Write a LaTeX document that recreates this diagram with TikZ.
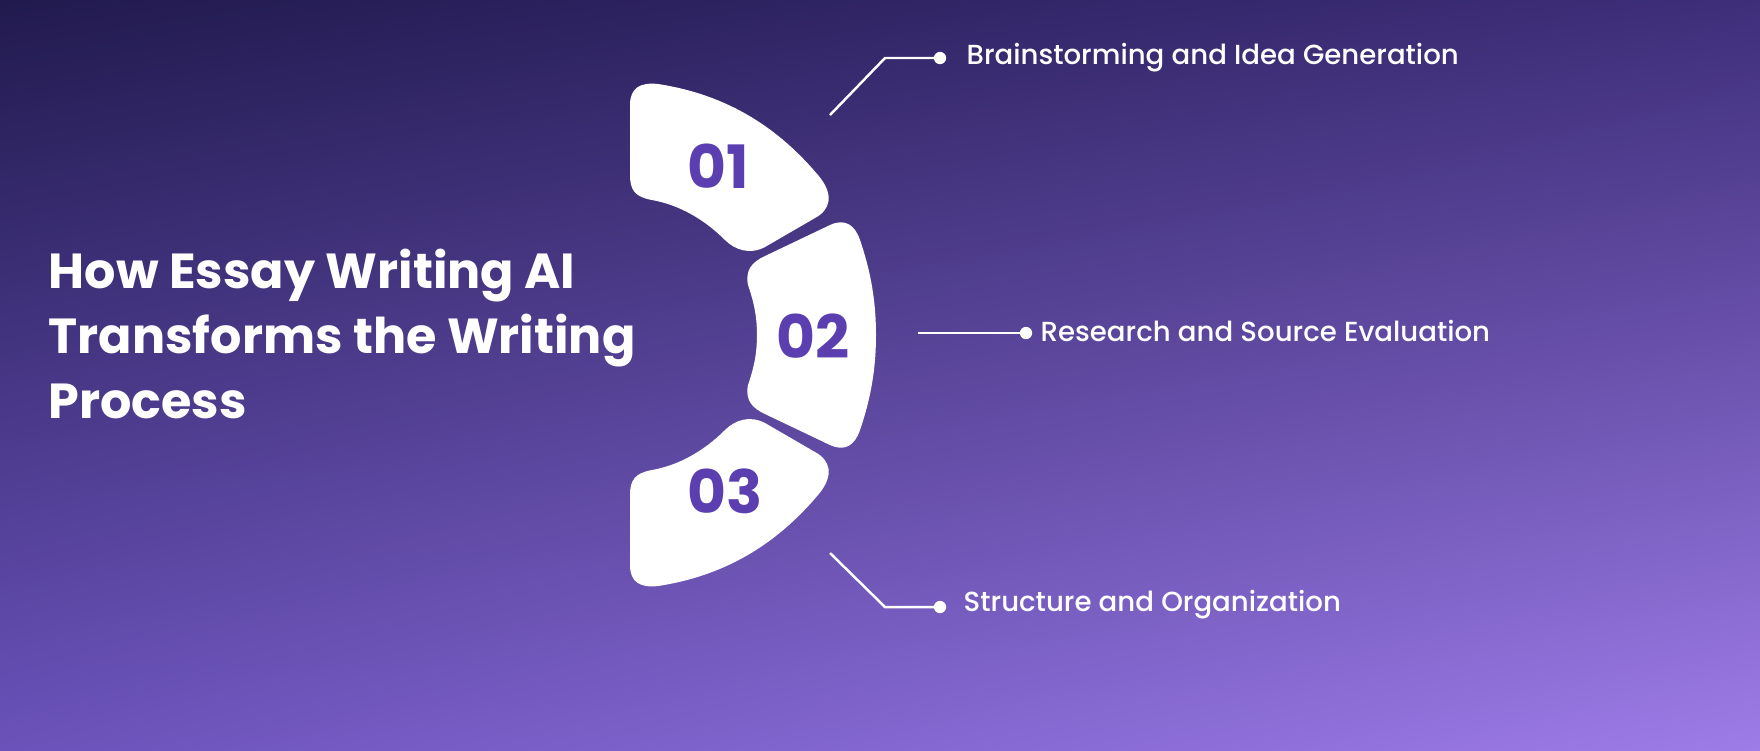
\documentclass[tikz,border=0pt]{standalone}
\usepackage{fontspec}
\usetikzlibrary{shadings}
\setmainfont{Poppins}
\definecolor{c1}{HTML}{211A4E}
\definecolor{c2}{HTML}{3E2E7A}
\definecolor{c3}{HTML}{6A52BA}
\definecolor{c4}{HTML}{9E7CE8}
\definecolor{num}{HTML}{5B3FB0}
\tikzset{seg/.style={fill=white,draw=none},
numtxt/.style={text=num,font=\fontsize{17}{17}\selectfont\bfseries},
lbl/.style={text=white,font=\fontsize{7.85}{10}\selectfont\fontspec{Poppins Medium},anchor=west,inner sep=0},
conn/.style={draw=white,line width=0.7pt},
dotc/.style={circle,fill=white,inner sep=0,minimum size=3.5pt}}
\begin{document}
\begin{tikzpicture}[x=0.01cm,y=-0.01cm]
\shade[upper left=c1,upper right=c2,lower left=c3,lower right=c4] (0,0) rectangle (1760,750);
\useasboundingbox (0,0) rectangle (1760,750);
\path[seg] (630,105) .. controls (630,88) and (640,82) .. (658,84)
 .. controls (730,95) and (780,130) .. (818,175)
 .. controls (835,195) and (830,210) .. (815,218)
 -- (765,247) .. controls (750,255) and (735,250) .. (725,240)
 .. controls (705,220) and (680,205) .. (652,200)
 .. controls (635,197) and (630,190) .. (630,175) -- cycle;
\path[seg] (630,565) .. controls (630,582) and (640,588) .. (658,586)
 .. controls (730,575) and (780,540) .. (818,495)
 .. controls (835,475) and (830,460) .. (815,452)
 -- (765,423) .. controls (750,415) and (735,420) .. (725,430)
 .. controls (705,450) and (680,465) .. (652,470)
 .. controls (635,473) and (630,480) .. (630,495) -- cycle;
\path[seg] (748,285) .. controls (745,270) and (752,262) .. (765,256) -- (830,225)
 .. controls (845,218) and (855,225) .. (860,240)
 .. controls (872,275) and (876,305) .. (876,335)
 .. controls (876,365) and (872,395) .. (860,430)
 .. controls (855,445) and (845,452) .. (830,445) -- (765,414)
 .. controls (752,408) and (745,400) .. (748,385)
 .. controls (755,365) and (757,350) .. (757,335)
 .. controls (757,320) and (755,305) .. (748,285) -- cycle;
\node[numtxt] (n1) at (718,166) {01};
\node[numtxt] (n2) at (813,336) {02};
\node[numtxt] (n3) at (725,491) {03};
\node[text=white,font=\fontsize{14}{18.5}\selectfont\bfseries,align=left,anchor=north west,inner sep=0] (title) at (48,248) {How Essay Writing AI\\Transforms the Writing\\Process};
\coordinate (s1) at (830,115); \coordinate (k1) at (885,58);
\node[dotc] (d1) at (940,58) {};
\node[lbl] (l1) at (966,58) {Brainstorming and Idea Generation};
\draw[conn] (s1) -- (k1) -- (d1.center);
\coordinate (s2) at (918,333);
\node[dotc] (d2) at (1026,333) {};
\node[lbl] (l2) at (1040,331) {Research and Source Evaluation};
\draw[conn] (s2) -- (d2.center);
\coordinate (s3) at (830,553); \coordinate (k3) at (885,607);
\node[dotc] (d3) at (940,607) {};
\node[lbl] (l3) at (963,605) {Structure and Organization};
\draw[conn] (s3) -- (k3) -- (d3.center);
\end{tikzpicture}
\end{document}
